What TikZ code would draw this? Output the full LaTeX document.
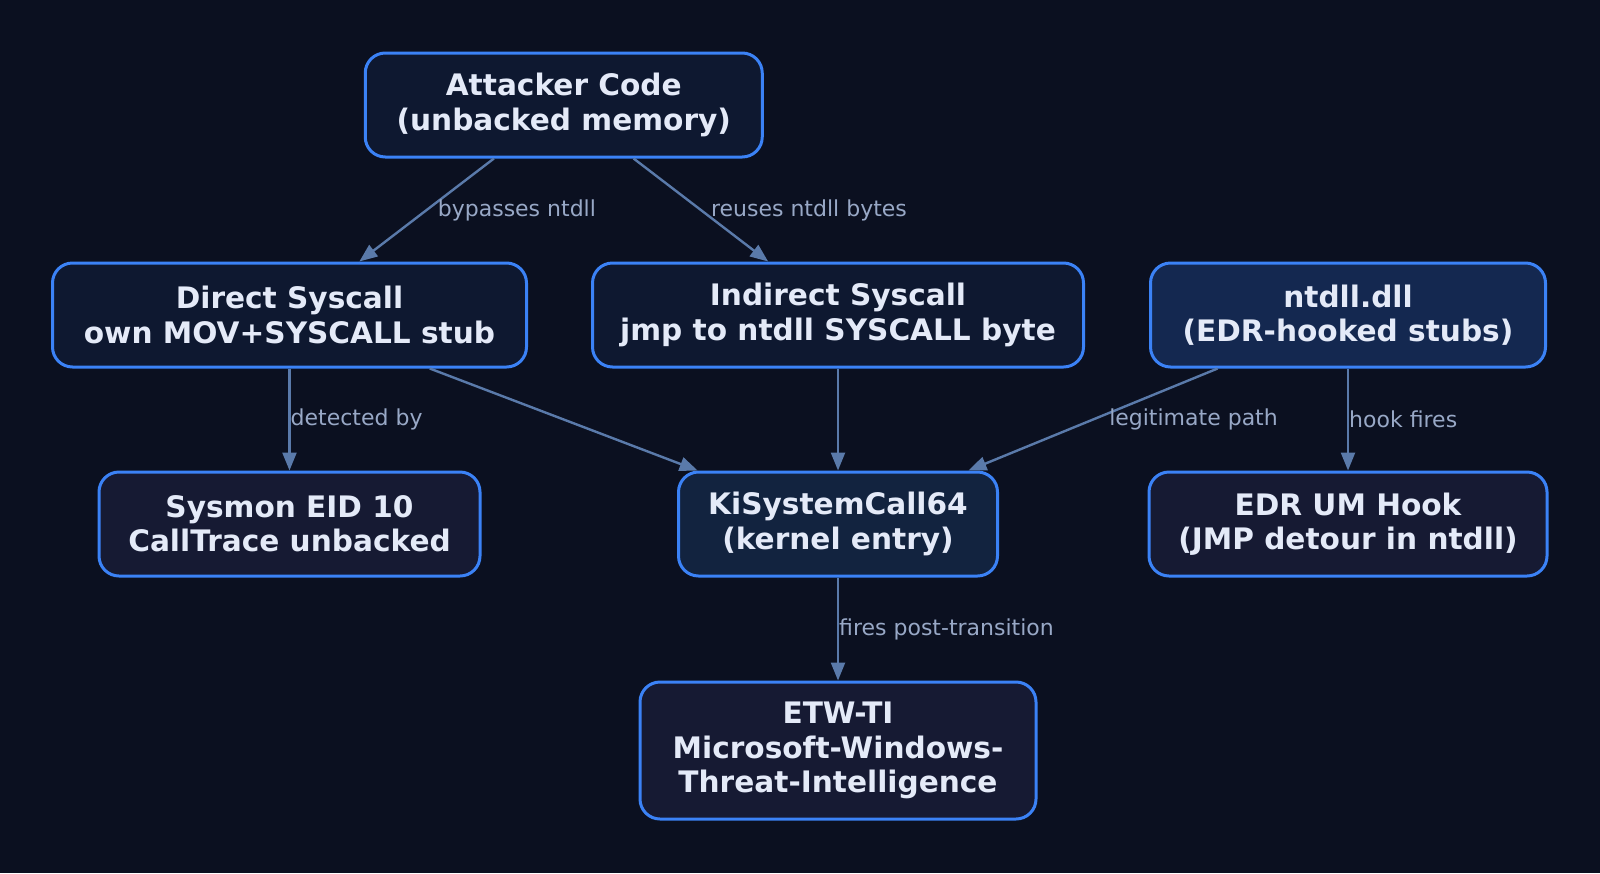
\documentclass[tikz,border=0pt]{standalone}
\usepackage{fontspec}
\setmainfont{DejaVu Sans}
\usepackage{tikz}
\usetikzlibrary{arrows.meta,positioning,calc}

\definecolor{bgdark}{HTML}{0B1020}
\definecolor{fillnavy}{HTML}{0E1830}
\definecolor{fillhook}{HTML}{142850}
\definecolor{fillkernel}{HTML}{12233F}
\definecolor{filldetect}{HTML}{161A33}
\definecolor{edgeblue}{HTML}{3B82F6}
\definecolor{linkgray}{HTML}{5A7AAA}
\definecolor{labelgray}{HTML}{98A8C6}
\definecolor{textlight}{HTML}{E4EAF8}

\begin{document}
\begin{tikzpicture}[
    node distance=51pt and 31.5pt,
    box/.style={draw=edgeblue, line width=1.5pt, rounded corners=10pt, align=center, minimum height=52pt, inner sep=0pt, fill=fillnavy, text=textlight, font=\fontsize{14.8}{17.2}\selectfont\bfseries},
    hooked/.style={box, fill=fillhook},
    kernel/.style={box, fill=fillkernel},
    sensor/.style={box, fill=filldetect},
    arrow/.style={-{Triangle[length=9pt, width=7pt]}, linkgray, line width=1.2pt},
    lbl/.style={anchor=west, inner sep=0pt, text=labelgray, font=\fontsize{11}{13}\selectfont}
]
\fill[bgdark] (0,0) rectangle (800pt,-436.5pt);
\useasboundingbox (0,0) rectangle (800pt,-436.5pt);

\node[box, minimum width=245.5pt] (indirect) at (419pt,-157.5pt) {Indirect Syscall\\jmp to ntdll SYSCALL byte};
\node[box, minimum width=237pt, left=of indirect] (direct) {Direct Syscall\\own MOV+SYSCALL stub};
\node[hooked, minimum width=197.5pt, right=32pt of indirect] (ntdll) {ntdll.dll\\(EDR-hooked stubs)};
\coordinate (split) at ($(direct.north)!0.5!(indirect.north)$);
\node[box, minimum width=198.5pt, above=51.5pt of split] (attacker) {Attacker Code\\(unbacked memory)};
\node[sensor, minimum width=190.5pt, below=of direct] (sysmon) {Sysmon EID 10\\CallTrace unbacked};
\node[kernel, minimum width=159.5pt, below=of indirect] (kisys) {KiSystemCall64\\(kernel entry)};
\node[sensor, minimum width=199pt, below=of ntdll] (umhook) {EDR UM Hook\\(JMP detour in ntdll)};
\node[sensor, minimum width=198pt, minimum height=68.5pt, below=51.5pt of kisys] (etwti) {ETW-TI\\Microsoft-Windows-\\Threat-Intelligence};

\draw[arrow] (attacker) -- node[lbl, xshift=5pt] {bypasses ntdll} (direct);
\draw[arrow] (attacker) -- node[lbl, xshift=4.5pt] {reuses ntdll bytes} (indirect);
\draw[arrow] (direct) -- node[lbl] {detected by} (sysmon);
\draw[arrow] (direct) -- (kisys);
\draw[arrow] (indirect) -- (kisys);
\draw[arrow] (ntdll) -- node[lbl, xshift=7.5pt] {legitimate path} (kisys);
\draw[arrow] (ntdll) -- node[lbl] {hook fires} (umhook);
\draw[arrow] (kisys) -- node[lbl] {fires post-transition} (etwti);
\end{tikzpicture}
\end{document}
